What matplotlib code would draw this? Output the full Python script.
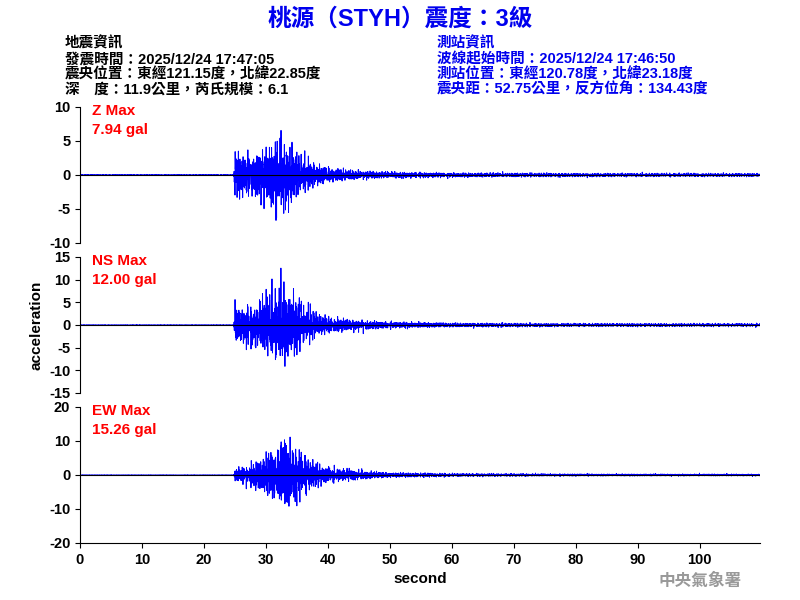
import numpy as np
import matplotlib
matplotlib.use("Agg")
import matplotlib.pyplot as plt

FAM = ['Liberation Sans', 'Noto Sans CJK TC', 'DejaVu Sans']
plt.rcParams['font.family'] = FAM
plt.rcParams['axes.unicode_minus'] = False

title = "桃源（STYH）震度：3級"
left_info = ["地震資訊", "發震時間：2025/12/24 17:47:05",
             "震央位置：東經121.15度，北緯22.85度", "深　度：11.9公里，芮氏規模：6.1"]
right_info = ["測站資訊", "波線起始時間：2025/12/24 17:46:50",
              "測站位置：東經120.78度，北緯23.18度", "震央距：52.75公里，反方位角：134.43度"]
comps = ["Z", "NS", "EW"]
maxes = [7.94, 12.00, 15.26]
ylims = [10, 15, 20]
yticks = [[-10, -5, 0, 5, 10], [-15, -10, -5, 0, 5, 10, 15], [-20, -10, 0, 10, 20]]
# envelope (time s, amplitude gal)
env_t = [0, 24.8, 25.0, 26, 28, 30, 32, 33, 34, 36, 38, 40, 45, 50, 60, 80, 110]
env_z = [0.05, 0.05, 4.5, 3.5, 3.5, 4.5, 6.5, 5.5, 4.5, 3.0, 1.8, 1.2, 0.7, 0.5, 0.35, 0.28, 0.25]
env_ns = [0.05, 0.05, 5.0, 4.5, 5.0, 7.0, 10.0, 9.5, 8.0, 5.0, 3.0, 2.0, 1.2, 0.8, 0.5, 0.38, 0.35]
env_ew = [0.05, 0.05, 2.0, 2.5, 4.0, 6.5, 9.0, 12.5, 10.0, 6.5, 3.8, 2.5, 1.5, 0.8, 0.5, 0.35, 0.3]
envs = [env_z, env_ns, env_ew]

t = np.arange(0, 109.7, 0.01)
fig = plt.figure(figsize=(8, 6), dpi=100)
fig.text(0.5, 0.968, title, ha='center', va='center', color='#0000ee',
         fontsize=17, fontweight='bold')
for i, s in enumerate(left_info):
    fig.text(0.081, 0.927 - i * 0.0255, s, fontsize=10.5, color='black', va='center', fontweight='bold')
for i, s in enumerate(right_info):
    fig.text(0.546, 0.927 - i * 0.0255, s, fontsize=10.5, color='#0000ee', va='center', fontweight='bold')
fig.text(0.875, 0.032, "中央氣象署", fontsize=12, color='#999999', ha='center', va='center',
         family=['Noto Sans CJK TC'], fontweight='bold')

tops = [1 - 107 / 600, 1 - 257 / 600, 1 - 407 / 600]
h = 136 / 600
freqs = [2.3, 3.7, 5.9, 7.3, 11.1, 13.7, 17.9, 23.3]
for k in range(3):
    ax = fig.add_axes([0.1, tops[k] - h, 0.85, h])
    e = np.interp(t, env_t, envs[k])
    c = np.zeros_like(t)
    for j, f in enumerate(freqs):
        c += np.sin(2 * np.pi * f * t + 1.3 * j + 0.7 * k) * np.sin(2 * np.pi * (0.11 * j + 0.23) * t + k)
    c = c / np.percentile(np.abs(c), 99.0)
    ax.plot(t, e * c, color='blue', lw=0.7)
    ax.axhline(0, color='black', lw=0.8)
    ax.set_xlim(0, 109.7)
    ax.set_ylim(-ylims[k], ylims[k])
    ax.set_yticks(yticks[k])
    for sp in ['top', 'right']:
        ax.spines[sp].set_visible(False)
    ax.tick_params(labelsize=10.5, direction='out')
    for lab in ax.get_yticklabels() + ax.get_xticklabels():
        lab.set_fontweight('bold')
    ax.text(2, ylims[k] * 0.8, f"{comps[k]} Max\n{maxes[k]:.2f} gal", color='red',
            fontsize=11, fontweight='bold', va='center', linespacing=1.4)
    if k < 2:
        ax.spines['bottom'].set_visible(False)
        ax.set_xticks([])
    else:
        ax.set_xticks(range(0, 101, 10))
        for lab in ax.get_xticklabels():
            lab.set_fontweight('bold')
        ax.set_xlabel("second", fontsize=11, fontweight='bold')
    if k == 1:
        ax.set_ylabel("acceleration", fontsize=11, fontweight='bold')
fig.savefig("out.png")
